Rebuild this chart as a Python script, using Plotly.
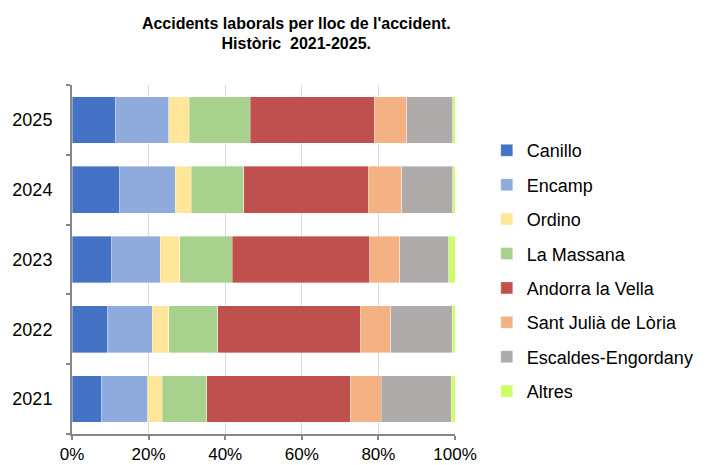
import plotly.graph_objects as go

years = ["2021", "2022", "2023", "2024", "2025"]

canillo = [7.6, 9.3, 10.4, 12.5, 11.3]
encamp = [12.2, 11.7, 12.7, 14.4, 13.9]
ordino = [3.7, 4.2, 5.0, 4.2, 5.4]
la_massana = [11.7, 12.9, 13.8, 13.7, 15.9]
andorra_la_vella = [37.5, 37.1, 35.8, 32.5, 32.4]
sant_julia = [8.0, 8.0, 7.9, 8.8, 8.5]
escaldes = [18.3, 16.1, 12.8, 13.3, 12.0]
altres = [1.0, 0.7, 1.6, 0.6, 0.6]

pct_ticks = [0, 20, 40, 60, 80, 100]
pct_labels = ["0%", "20%", "40%", "60%", "80%", "100%"]

series = [
    ("Canillo", canillo, "#4472C4"),
    ("Encamp", encamp, "#8FAADC"),
    ("Ordino", ordino, "#FFE699"),
    ("La Massana", la_massana, "#A9D18E"),
    ("Andorra la Vella", andorra_la_vella, "#C0504D"),
    ("Sant Julià de Lòria", sant_julia, "#F4B183"),
    ("Escaldes-Engordany", escaldes, "#AFABAB"),
    ("Altres", altres, "#CCFF66"),
]

fig = go.Figure()

for name, values, color in series:
    fig.add_trace(
        go.Bar(
            y=years,
            x=values,
            name=name,
            orientation="h",
            legendgroup=name,
            marker=dict(color=color, line=dict(color="rgba(255,255,255,0.6)", width=0.6)),
        )
    )

# the page body keeps its 8px default margin, so the figure is 8px smaller
fig.update_layout(
    barmode="stack",
    barnorm="percent",
    bargap=0.33,
    width=698,
    height=457,
    margin=dict(l=64, r=251, t=77, b=31, autoexpand=False),
    paper_bgcolor="white",
    plot_bgcolor="white",
    font=dict(family="Liberation Sans, Arial, sans-serif", size=18, color="black"),
    title=dict(
        text="<b>Accidents laborals per lloc de l'accident.</b><br><b>Històric  2021-2025.</b>",
        x=0.413,
        xanchor="center",
        xref="container",
        y=0.955,
        yanchor="top",
        yref="container",
        font=dict(size=16, color="black"),
    ),
    legend=dict(
        x=1.083,
        xanchor="left",
        y=0.865,
        yanchor="top",
        traceorder="grouped",
        tracegroupgap=8,
        font=dict(size=18),
        itemwidth=30,
    ),
    showlegend=True,
)

fig.update_xaxes(
    range=[0, 100],
    tickvals=pct_ticks,
    ticktext=pct_labels,
    tickfont=dict(size=17),
    showgrid=True,
    gridcolor="#D9D9D9",
    gridwidth=1,
    showline=True,
    linecolor="#868686",
    linewidth=2,
    ticks="outside",
    ticklen=4,
    tickcolor="#868686",
    tickwidth=2,
    zeroline=False,
)

fig.update_yaxes(
    type="category",
    categoryorder="array",
    categoryarray=years,
    showline=True,
    linecolor="#868686",
    linewidth=2,
    ticks="outside",
    tickson="boundaries",
    ticklen=4,
    tickcolor="#868686",
    tickwidth=2,
    ticklabelstandoff=14,
    showgrid=False,
)

fig.write_html("out.html")
